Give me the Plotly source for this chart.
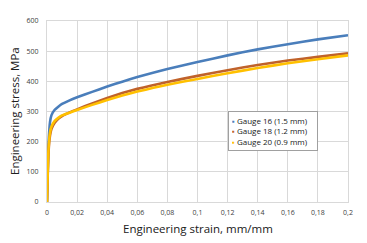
import plotly.graph_objects as go

strain = [0, 0.001, 0.002, 0.003, 0.005, 0.0075, 0.01, 0.015, 0.02, 0.03, 0.04, 0.05,
          0.06, 0.08, 0.1, 0.12, 0.14, 0.16, 0.18, 0.2]
gauge16 = [0, 190, 265, 288, 305, 316, 325, 337, 347, 365, 383, 399, 414, 441, 464, 486, 506, 523, 539, 553]
gauge18 = [0, 165, 220, 243, 262, 276, 285, 297, 307, 327, 345, 361, 375, 398, 418, 437, 454, 469, 481, 493]
gauge20 = [0, 175, 230, 250, 268, 279, 287, 296, 305, 322, 338, 353, 366, 389, 408, 427, 444, 460, 473, 486]

names = ["Gauge 16 (1.5 mm)", "Gauge 18 (1.2 mm)", "Gauge 20 (0.9 mm)"]
colors = ["#4A7EBB", "#C0622A", "#FFC000"]

xtickvals = [0, 0.02, 0.04, 0.06, 0.08, 0.1, 0.12, 0.14, 0.16, 0.18, 0.2]
xticktext = ["0", "0,02", "0,04", "0,06", "0,08", "0,1", "0,12", "0,14", "0,16", "0,18", "0,2"]
ytickvals = [0, 100, 200, 300, 400, 500, 600]

fig = go.Figure()
for ys, n, c in zip([gauge16, gauge18, gauge20], names, colors):
    fig.add_trace(go.Scatter(x=strain, y=ys, mode="lines", name=n,
                             line=dict(color=c, width=2.6, shape="spline", smoothing=0.5),
                             showlegend=False))

legend_text = "<br>".join(
    f"<span style='color:{c}'>▪</span> {n}" for n, c in zip(names, colors))

fig.update_layout(
    width=359, height=235,
    margin=dict(l=39, r=19, t=13, b=41),
    paper_bgcolor="white", plot_bgcolor="white",
    font=dict(family="Open Sans", color="#404040"),
    showlegend=False,
    annotations=[
        dict(text=legend_text, xref="paper", yref="paper", x=0.601, y=0.503,
             xanchor="left", yanchor="top", align="left", showarrow=False,
             font=dict(size=8, color="#202020"), bgcolor="white",
             bordercolor="#A0A0A0", borderwidth=1, borderpad=3,
             width=82),
        dict(text="Engineering strain, mm/mm", xref="paper", yref="paper",
             x=0.5, y=0, yshift=-17, xanchor="center", yanchor="top", showarrow=False,
             font=dict(size=11.5, color="#202020")),
        dict(text="Engineering stress, MPa", xref="paper", yref="paper",
             x=0, y=0.5, xshift=-23, xanchor="right", yanchor="middle", showarrow=False,
             textangle=-90, font=dict(size=11.5, color="#202020")),
    ],
)
fig.update_xaxes(range=[0, 0.2], tickvals=xtickvals, ticktext=xticktext, automargin=False,
                 showgrid=True, gridcolor="#D9D9D9", gridwidth=1,
                 zeroline=False, showline=True, linecolor="#D9D9D9", mirror=True,
                 ticks="", ticklabelstandoff=4,
                 tickfont=dict(size=7, color="#404040"))
fig.update_yaxes(range=[0, 600], tickvals=ytickvals, automargin=False,
                 showgrid=True, gridcolor="#D9D9D9", gridwidth=1,
                 zeroline=False, showline=True, linecolor="#D9D9D9", mirror=True,
                 ticks="", ticklabelstandoff=6,
                 tickfont=dict(size=7, color="#404040"))

fig.write_html("out.html")
